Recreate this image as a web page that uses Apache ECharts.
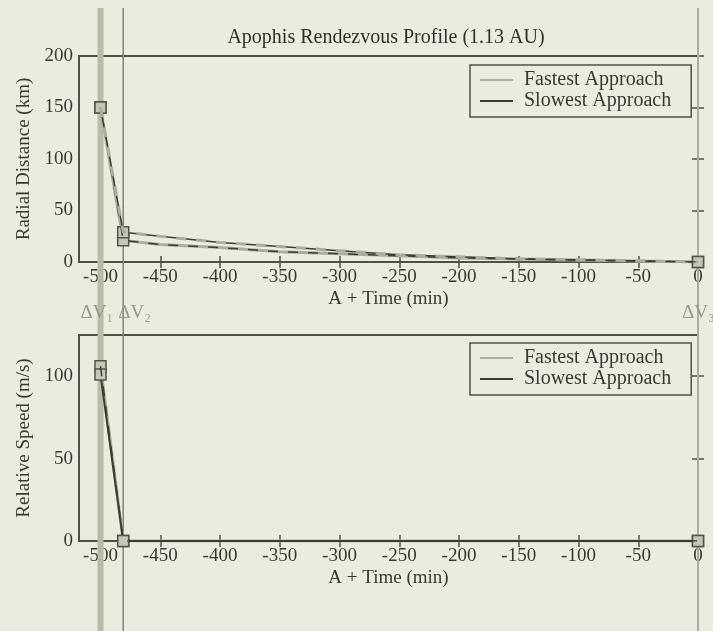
<!DOCTYPE html>
<html>
<head>
<meta charset="utf-8">
<script src="https://cdn.jsdelivr.net/npm/echarts@6/dist/echarts.min.js"></script>
<style>
html,body{margin:0;padding:0;background:#e9ecdf;}
#c{width:713px;height:631px;}
</style>
</head>
<body>
<div id="c"></div>
<script>
// ---- data ----
const time       = [-500, -481, -450, -400, -350, -300, -250, -200, -150, -100, -50, 0];
const fastDist   = [150, 21, 17, 14, 10, 8, 6, 4, 3, 2, 1, 0];
const slowDist   = [150, 29, 25, 19, 15, 11, 7, 5, 3, 2, 1, 0];
const fastSpeed  = [106, 0, 0, 0, 0, 0, 0, 0, 0, 0, 0, 0];
const slowSpeed  = [101, 0, 0, 0, 0, 0, 0, 0, 0, 0, 0, 0];
const xTicks     = [-500, -450, -400, -350, -300, -250, -200, -150, -100, -50, 0];
const distTicks  = [0, 50, 100, 150, 200];
const speedTicks = [0, 50, 100];
const burnTimes  = [-500, -481, 0];
const burnLabels = ['ΔV₁', 'ΔV₂', 'ΔV₃'];
const seriesNames = ['Fastest Approach', 'Slowest Approach'];
const titleText = 'Apophis Rendezvous Profile (1.13 AU)';
const xName = 'A + Time (min)';
const yNames = ['Radial Distance (km)', 'Relative Speed (m/s)'];

// ---- styling ----
const FONT = 'Liberation Serif, DejaVu Serif, serif';
const TXT = '#363b31';
const AX = '#4d5248';
const GRAY = '#a9b09d';
const DARK = '#3a3e35';

const chart = echarts.init(document.getElementById('c'), null, {renderer: 'canvas'});
const pairs = (ys) => time.map((t, i) => [t, ys[i]]);
const markIdx = [0, 1, time.length - 1];

function xAx(gi, pos, labels) {
  return {
    type: 'value', gridIndex: gi, position: pos, min: -518, max: 0,
    name: labels ? xName : '', nameLocation: 'middle', nameGap: 28,
    nameTextStyle: {fontFamily: FONT, fontSize: 19, color: TXT},
    axisLine: {show: false},
    axisTick: {show: true, inside: true, length: 6, customValues: xTicks, lineStyle: {color: AX, width: 1.5}},
    axisLabel: {show: labels, customValues: xTicks, margin: 6, fontFamily: FONT, fontSize: 19, color: TXT},
    splitLine: {show: false}
  };
}
function yAx(gi, pos, labels, max, ticks, name) {
  return {
    type: 'value', gridIndex: gi, position: pos, min: 0, max: max,
    name: labels ? name : '', nameLocation: 'middle', nameGap: 42, nameRotate: 90,
    nameTextStyle: {fontFamily: FONT, fontSize: 19, color: TXT},
    axisLine: {show: false},
    axisTick: {show: true, inside: true, length: 6, customValues: ticks, lineStyle: {color: AX, width: 1.5}},
    axisLabel: {show: labels, customValues: ticks, margin: 6, fontFamily: FONT, fontSize: 19, color: TXT},
    splitLine: {show: false}
  };
}

function mainLine(name, axi, ys, color, width) {
  return {
    name: name, type: 'line', xAxisIndex: axi, yAxisIndex: axi, data: pairs(ys),
    symbol: 'rect',
    symbolSize: (v, p) => markIdx.includes(p.dataIndex) ? 11 : 0,
    itemStyle: {color: '#c3c8b6', borderColor: '#50554b', borderWidth: 1.5},
    lineStyle: {color: color, width: width},
    z: 3, animation: false
  };
}
function dashLine(axi, ys, color, width) {
  return {
    name: '_dash', type: 'line', xAxisIndex: axi, yAxisIndex: axi, data: pairs(ys),
    showSymbol: false, symbol: 'none',
    lineStyle: {color: color, width: width, type: [10, 10]},
    z: 4, animation: false, silent: true
  };
}

const legendColors = [GRAY, DARK];
function legendCfg(top) {
  return {
    data: seriesNames.map((n, i) => ({name: n, itemStyle: {color: legendColors[i], borderWidth: 0}})),
    orient: 'vertical', left: 470, top: top,
    padding: [5, 20, 6, 10], itemGap: 1,
    itemWidth: 33, itemHeight: 2, icon: 'rect',
    itemStyle: {borderWidth: 0},
    borderColor: '#4d5248', borderWidth: 1.5, backgroundColor: '#e9ecdf',
    textStyle: {fontFamily: FONT, fontSize: 20, color: TXT, padding: [0, 0, 0, 6], lineHeight: 20}
  };
}

const burnStroke = ['#b5bca8', '#7e8575', '#a9af9d'];
const burnWidth = [6, 1.5, 2];
const burnOffset = [-20, -5, -16];

const option = {
  backgroundColor: '#e9ecdf',
  animation: false,
  grid: [
    {left: 79, right: 15, top: 56, height: 206, show: true, borderColor: AX, borderWidth: 2, backgroundColor: 'transparent'},
    {left: 79, right: 15, top: 335, height: 206, show: true, borderColor: AX, borderWidth: 2, backgroundColor: 'transparent'}
  ],
  xAxis: [xAx(0, 'bottom', true), xAx(1, 'bottom', true), xAx(0, 'top', false), xAx(1, 'top', false)],
  yAxis: [yAx(0, 'left', true, 200, distTicks, yNames[0]), yAx(1, 'left', true, 125, speedTicks, yNames[1]),
          yAx(0, 'right', false, 200, distTicks, ''), yAx(1, 'right', false, 125, speedTicks, '')],
  legend: [legendCfg(65), legendCfg(343)],
  graphic: [{
    type: 'text', x: 386, y: 38, z: 10,
    style: {text: titleText, font: '20px ' + FONT, fill: '#2d3228', align: 'center', verticalAlign: 'middle'}
  }],
  series: [
    {
      type: 'custom', xAxisIndex: 0, yAxisIndex: 0, clip: false, silent: true, z: 1,
      data: burnTimes.map((t, i) => [t, i]),
      renderItem: (params, api) => {
        const i = api.value(1);
        const x = api.coord([api.value(0), 0])[0];
        return {
          type: 'group',
          children: [
            {type: 'line', shape: {x1: x, y1: 8, x2: x, y2: 631},
             style: {stroke: burnStroke[i], lineWidth: burnWidth[i]}},
            {type: 'text', x: x + burnOffset[i], y: 313,
             style: {text: burnLabels[i], fill: '#959b8a', font: '19px ' + FONT, align: 'left', verticalAlign: 'middle'}}
          ]
        };
      }
    },
    mainLine(seriesNames[0], 0, fastDist, GRAY, 3),
    mainLine(seriesNames[1], 0, slowDist, DARK, 1.5),
    dashLine(0, fastDist, DARK, 1.5),
    dashLine(0, slowDist, GRAY, 3),
    mainLine(seriesNames[0], 1, fastSpeed, GRAY, 3),
    mainLine(seriesNames[1], 1, slowSpeed, DARK, 2),
    dashLine(1, fastSpeed, DARK, 1.5)
  ]
};
chart.setOption(option);
</script>
</body>
</html>
